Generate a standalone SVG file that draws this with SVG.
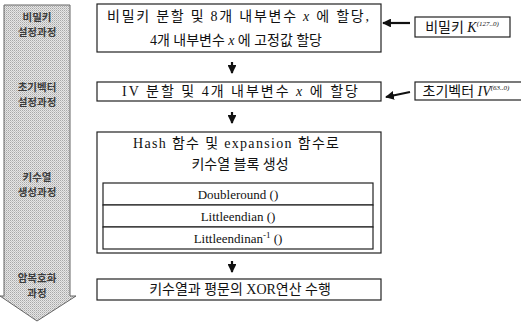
<svg xmlns="http://www.w3.org/2000/svg" width="521" height="322" viewBox="0 0 521 322">
<defs>
<pattern id="dots" width="2" height="2" patternUnits="userSpaceOnUse">
<rect width="2" height="2" fill="#e6e6e6"/>
<rect width="1" height="1" fill="#a8a8a8"/>
<rect x="1" y="1" width="1" height="1" fill="#c4c4c4"/>
</pattern>
<marker id="ah" viewBox="0 0 10 10" refX="9" refY="5" markerWidth="4" markerHeight="4" orient="auto">
<path d="M0,0 L10,5 L0,10 Z" fill="#111"/>
</marker>
</defs>
<style>
.box{fill:#fff;stroke:#222;stroke-width:1.2}
.t{font-family:"Liberation Serif","Noto Sans CJK KR",serif;font-size:14px;fill:#111;text-anchor:middle}
.s{font-size:13px}
.side{font-family:"Noto Sans CJK KR",sans-serif;font-size:10.5px;font-weight:bold;fill:#3c3c3c;text-anchor:middle}
.arr{stroke:#111;stroke-width:2.2;fill:none;marker-end:url(#ah)}
</style>
<rect width="521" height="322" fill="#fff"/>
<g id="phase-arrow">
<polygon points="4,5 70,5 70,296 76,296 37,321 0,296 4,296" fill="url(#dots)" stroke="#666" stroke-width="1"/>
<text class="side" x="37" y="21">비밀키</text>
<text class="side" x="37" y="36">설정과정</text>
<text class="side" x="37" y="91">초기벡터</text>
<text class="side" x="37" y="106">설정과정</text>
<text class="side" x="37" y="181">키수열</text>
<text class="side" x="37" y="196">생성과정</text>
<text class="side" x="37" y="282">암복호화</text>
<text class="side" x="37" y="297">과정</text>
</g>
<g id="box1">
<rect class="box" x="97" y="4" width="284" height="48"/>
<text class="t" x="238" y="21" textLength="262" lengthAdjust="spacing">비밀키 분할 및 8개 내부변수 <tspan font-style="italic">x</tspan> 에 할당,</text>
<text class="t" x="236" y="45" textLength="172" lengthAdjust="spacing">4개 내부변수 <tspan font-style="italic">x</tspan> 에 고정값 할당</text>
</g>
<g id="box2">
<rect class="box" x="97" y="82" width="284" height="19"/>
<text class="t" x="240" y="96" textLength="236" lengthAdjust="spacing">IV 분할 및 4개 내부변수 <tspan font-style="italic">x</tspan> 에  할당</text>
</g>
<g id="box3">
<rect class="box" x="97" y="132" width="284" height="121"/>
<text class="t" x="236" y="148" textLength="206" lengthAdjust="spacing">Hash 함수 및 expansion 함수로</text>
<text class="t" x="240" y="169">키수열 블록 생성</text>
<rect class="box" x="103" y="183" width="270" height="22"/>
<rect class="box" x="103" y="205" width="270" height="22"/>
<rect class="box" x="103" y="227" width="270" height="22"/>
<text class="t s" x="238" y="199">Doubleround ()</text>
<text class="t s" x="238" y="221">Littleendian ()</text>
<text class="t s" x="238" y="243">Littleendinan<tspan font-size="9" dy="-5">-1</tspan><tspan dy="5"> ()</tspan></text>
</g>
<g id="box4">
<rect class="box" x="97" y="279" width="284" height="21"/>
<text class="t" x="240" y="294">키수열과 평문의 XOR연산 수행</text>
</g>
<g id="key">
<rect class="box" x="415" y="17" width="95" height="20"/>
<text class="t" x="462" y="32">비밀키 <tspan font-style="italic">K</tspan><tspan font-size="7" dy="-6" font-style="italic">(127..0)</tspan></text>
</g>
<g id="iv">
<rect class="box" x="415" y="82" width="110" height="18"/>
<text class="t" x="466" y="96">초기벡터 <tspan font-style="italic">IV</tspan><tspan font-size="7" dy="-6" font-style="italic">(63..0)</tspan></text>
</g>
<g id="connectors">
<line class="arr" x1="410" y1="23" x2="383" y2="23"/>
<line class="arr" x1="410" y1="92" x2="386" y2="97"/>
<line class="arr" x1="232" y1="62" x2="232" y2="73"/>
<line class="arr" x1="232" y1="112" x2="232" y2="123"/>
<line class="arr" x1="232" y1="261" x2="232" y2="272"/>
</g>
</svg>
